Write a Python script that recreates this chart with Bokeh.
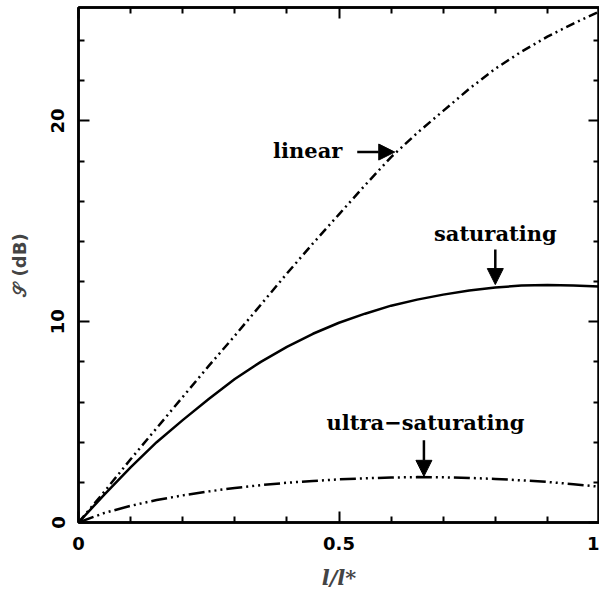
from bokeh.plotting import figure
from bokeh.models import (Range1d, LinearAxis, FixedTicker, Label, Arrow, NormalHead,
                          ColumnDataSource, CustomJSTickFormatter)
from bokeh.embed import file_html
from bokeh.resources import INLINE

# ---- data ----
x_vals = [0.0, 0.05, 0.1, 0.15, 0.2, 0.25, 0.3, 0.35, 0.4, 0.45, 0.5,
          0.55, 0.6, 0.65, 0.7, 0.75, 0.8, 0.85, 0.9, 0.95, 1.0]
linear = [0.0, 1.55, 3.15, 4.7, 6.25, 7.8, 9.3, 10.85, 12.4, 13.9, 15.35,
          16.8, 18.2, 19.4, 20.5, 21.6, 22.6, 23.45, 24.2, 24.85, 25.45]
saturating = [0.0, 1.4, 2.75, 4.0, 5.1, 6.15, 7.15, 8.0, 8.75, 9.4, 9.95,
              10.4, 10.8, 11.1, 11.35, 11.55, 11.7, 11.8, 11.83, 11.8, 11.75]
ultra = [0.0, 0.48, 0.83, 1.12, 1.35, 1.55, 1.72, 1.86, 1.98, 2.07, 2.15,
         2.2, 2.24, 2.26, 2.25, 2.22, 2.17, 2.1, 2.02, 1.91, 1.78]

x_ticks = [0, 0.5, 1]
x_tick_labels = ["0", "0.5", "1"]
x_minor = [0.1, 0.2, 0.3, 0.4, 0.6, 0.7, 0.8, 0.9]
y_ticks = [0, 10, 20]
y_tick_labels = ["0", "10", "20"]
y_minor = [2, 4, 6, 8, 12, 14, 16, 18, 22, 24]

src = ColumnDataSource(dict(x=x_vals, lin=linear, sat=saturating, ult=ultra))

p = figure(width=599, height=596, output_backend="svg", toolbar_location=None,
           x_range=Range1d(0, 1), y_range=Range1d(0, 25.65),
           min_border_left=78, min_border_right=0, min_border_top=7, min_border_bottom=74,
           x_axis_type=None, y_axis_type=None)
p.grid.visible = False
p.outline_line_color = "black"
p.outline_line_width = 2.5

tick_font = "DejaVu Sans"

def style_axis(ax, ticks, minor, labels, show_labels):
    ax.ticker = FixedTicker(ticks=ticks, minor_ticks=minor)
    ax.axis_line_width = 2.5
    ax.axis_line_color = "black"
    ax.major_tick_line_width = 2
    ax.minor_tick_line_width = 2
    ax.major_tick_in = 11
    ax.major_tick_out = 0
    ax.minor_tick_in = 6
    ax.minor_tick_out = 0
    ax.major_label_text_font = tick_font
    ax.major_label_text_font_style = "bold"
    ax.major_label_text_color = "black"
    ax.major_label_text_font_size = "18px"
    if show_labels:
        ax.major_label_overrides = {t: l for t, l in zip(ticks, labels)}
    else:
        ax.formatter = CustomJSTickFormatter(code="return '';")
        ax.major_label_standoff = 0

xb = LinearAxis(axis_label="l/l*")
style_axis(xb, x_ticks, x_minor, x_tick_labels, True)
xb.major_label_standoff = 14
xb.axis_label_text_font = "DejaVu Serif"
xb.axis_label_text_font_style = "bold italic"
xb.axis_label_text_font_size = "21px"
xb.axis_label_standoff = 12
p.add_layout(xb, "below")

yl = LinearAxis(axis_label="𝒮 (dB)")
style_axis(yl, y_ticks, y_minor, y_tick_labels, True)
yl.major_label_orientation = "vertical"
yl.major_label_standoff = 14
yl.axis_label_text_font = tick_font
yl.axis_label_text_font_style = "bold"
yl.axis_label_text_font_size = "18px"
yl.axis_label_standoff = 19
p.add_layout(yl, "left")

xt = LinearAxis()
style_axis(xt, x_ticks, x_minor, x_tick_labels, False)
p.add_layout(xt, "above")

yr = LinearAxis()
style_axis(yr, y_ticks, y_minor, y_tick_labels, False)
p.add_layout(yr, "right")

# ---- curves ----
p.line("x", "lin", source=src, line_color="black", line_width=2.5,
       line_dash="9 4 2 4 2 4")
p.line("x", "sat", source=src, line_color="black", line_width=2.5)
p.line("x", "ult", source=src, line_color="black", line_width=2.5,
       line_dash="16 4 2 4 2 4 2 4")

# ---- annotations ----
ann_font = "DejaVu Serif"
for txt, tx, ty in [("linear", 0.44, 18.55),
                    ("saturating", 0.80, 14.4),
                    ("ultra\u2212saturating", 0.666, 5.0)]:
    p.add_layout(Label(x=tx, y=ty, text=txt, text_font=ann_font,
                       text_font_style="bold", text_font_size="21px",
                       text_align="center", text_baseline="middle",
                       text_color="black"))

for (x0, y0, x1, y1) in [(0.535, 18.45, 0.607, 18.45),
                         (0.80, 13.6, 0.80, 11.85),
                         (0.663, 4.1, 0.663, 2.3)]:
    p.add_layout(Arrow(x_start=x0, y_start=y0, x_end=x1, y_end=y1,
                       line_width=2.5, line_color="black",
                       end=NormalHead(size=16, fill_color="black",
                                      line_color="black", line_width=1)))

open("out.html", "w").write(file_html(p, INLINE))
